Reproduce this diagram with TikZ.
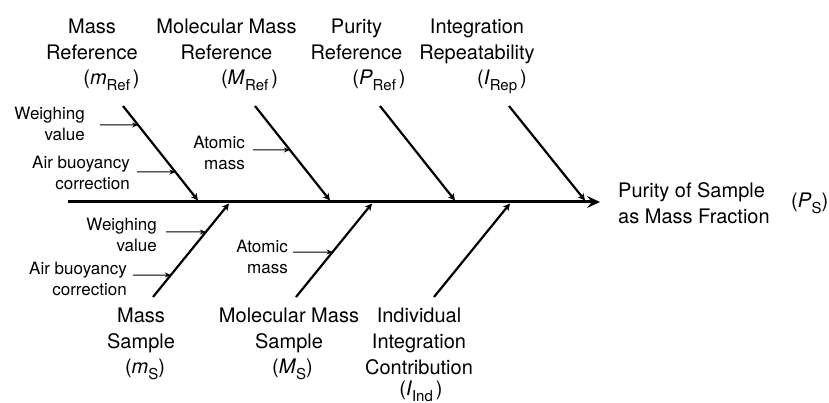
\documentclass[tikz,border=0pt]{standalone}
\usepackage{fontspec}
\setmainfont{TeX Gyre Heros}
\usetikzlibrary{arrows.meta,calc}
\newcommand\fbsym[3]{(\textit{#1}\raisebox{-6pt}{\fontsize{15}{15}\selectfont #2}#3)}
\begin{document}
\begin{tikzpicture}[x=1pt,y=-1pt,
  spine/.style={line width=3pt,-{Stealth[length=13pt,width=12pt,inset=5pt]}},
  branch/.style={line width=2.2pt,-{Stealth[length=7pt,width=7pt,inset=2pt]}},
  subarrow/.style={line width=1pt,-{Stealth[length=6pt,width=5pt]}},
  lab/.style={font=\fontsize{20}{26}\selectfont,align=center,inner sep=0pt,anchor=north},
  symlab/.style={font=\fontsize{20}{26}\selectfont,inner sep=0pt,anchor=base},
  sublab/.style={font=\fontsize{17}{21}\selectfont,align=right,inner sep=0pt,anchor=east}]
\useasboundingbox (0,0) rectangle (829,403);
% effect
\node[lab,anchor=north west,align=left] (out) at (618,182.6) {Purity of Sample\\as Mass Fraction};
\node[symlab,anchor=base west] (outs) at (791,207.5) {\fbsym{P}{S}{}};
\coordinate (sL) at (68,202);
\coordinate (sR) at (600,202);
\draw[spine] (sL) -- (sR);
% branch coordinates
\coordinate (T1s) at (123,106); \coordinate (T1e) at (198,200.5);
\coordinate (T2s) at (255,106); \coordinate (T2e) at (330,200.5);
\coordinate (T3s) at (380,106); \coordinate (T3e) at (455,200.5);
\coordinate (T4s) at (509,106); \coordinate (T4e) at (585,200.5);
\coordinate (B1s) at (153,297); \coordinate (B1e) at (229,203.5);
\coordinate (B2s) at (296,297); \coordinate (B2e) at (372,203.5);
\coordinate (B3s) at (434,297); \coordinate (B3e) at (510,203.5);
\foreach \b in {T1,T2,T3,T4,B1,B2,B3} \draw[branch] (\b s) -- (\b e);
% top labels
\node[lab] (n1) at (92,18.6) {Mass\\Reference};
\node[symlab] (s1) at (111.5,85) {\fbsym{m}{Ref}{\hspace{3pt}}};
\node[lab] (n2) at (226.5,18.6) {Molecular Mass\\Reference};
\node[symlab] (s2) at (249.5,85) {\fbsym{M}{Ref}{\hspace{3pt}}};
\node[lab] (n3) at (356.5,18.6) {Purity\\Reference};
\node[symlab] (s3) at (379,85) {\fbsym{P}{Ref}{\hspace{3pt}}};
\node[lab] (n4) at (477,18.6) {Integration\\Repeatability};
\node[symlab] (s4) at (502,85) {\fbsym{I}{Rep}{\hspace{3pt}}};
% bottom labels
\node[lab] (m1) at (141,307.6) {Mass\\Sample};
\node[symlab] (r1) at (145,373) {\fbsym{m}{S}{}};
\node[lab] (m2) at (289,307.6) {Molecular Mass\\Sample};
\node[symlab] (r2) at (292.5,373) {\fbsym{M}{S}{}};
\node[lab] (m3) at (419,307.6) {Individual\\Integration\\Contribution};
\node[symlab] (r3) at (421,395) {\fbsym{I}{Ind}{\hspace{3pt}}};
% sub causes
\node[sublab] (tw) at (85,124) {Weighing\\value};
\node[sublab] (ta) at (130,172.5) {Air buoyancy\\correction};
\node[sublab] (tm) at (245,153) {Atomic\\mass};
\node[sublab] (bw) at (157,234.5) {Weighing\\value};
\node[sublab] (ba) at (127,278.5) {Air buoyancy\\correction};
\node[sublab] (bm) at (288,256.5) {Atomic\\mass};
\coordinate (tw0) at (100,125);
\coordinate (ta0) at (137,172);
\coordinate (tm0) at (253,150);
\coordinate (bw0) at (166,232);
\coordinate (ba0) at (133,275);
\coordinate (bm0) at (293,252);
\draw[subarrow] (tw0) -- ($(T1s)!{(125-106)/94.5}!(T1e)$);
\draw[subarrow] (ta0) -- ($(T1s)!{(172-106)/94.5}!(T1e)$);
\draw[subarrow] (tm0) -- ($(T2s)!{(150-106)/94.5}!(T2e)$);
\draw[subarrow] (bw0) -- ($(B1s)!{(297-232)/93.5}!(B1e)$);
\draw[subarrow] (ba0) -- ($(B1s)!{(297-275)/93.5}!(B1e)$);
\draw[subarrow] (bm0) -- ($(B2s)!{(297-252)/93.5}!(B2e)$);
\end{tikzpicture}
\end{document}
